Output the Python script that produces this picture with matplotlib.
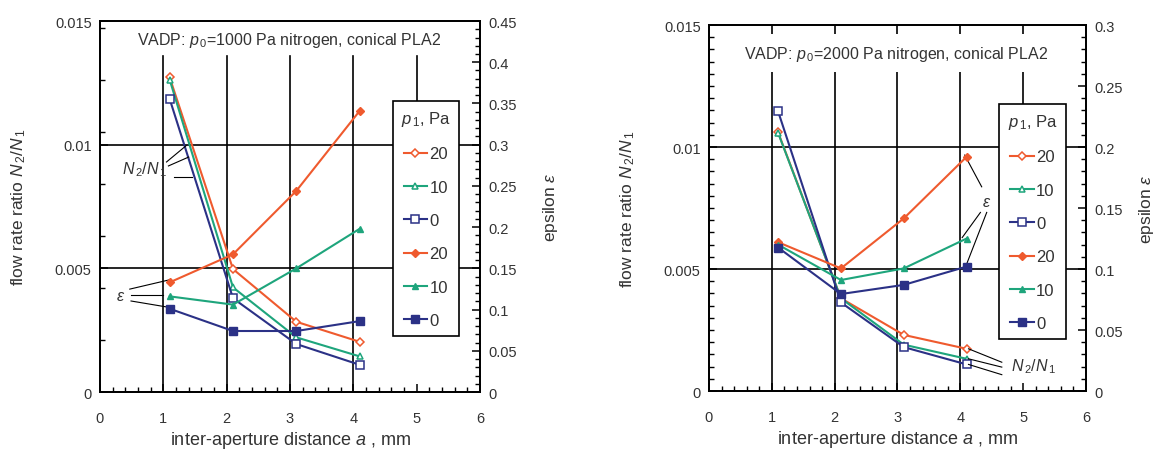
import numpy as np
import matplotlib
matplotlib.use("Agg")
import matplotlib.pyplot as plt
from matplotlib.ticker import MultipleLocator, FixedLocator

plt.rcParams['font.family'] = ['Liberation Sans', 'DejaVu Sans']
plt.rcParams['mathtext.fontset'] = 'custom'
plt.rcParams['mathtext.rm'] = 'Liberation Sans'
plt.rcParams['mathtext.it'] = 'Liberation Sans:italic'
plt.rcParams['mathtext.bf'] = 'Liberation Sans:bold'

# inter-aperture distance a, mm
a = [1.1, 2.1, 3.1, 4.1]
p1_labels = ['20', '10', '0']
ratio_ticks = [0, 0.005, 0.01, 0.015]
ratio_tick_labels = ['0', '0.005', '0.01', '0.015']

# p0 = 1000 Pa : flow rate ratio N2/N1 and epsilon
ratio_1000_20 = [0.01272, 0.00497, 0.00284, 0.00203]
ratio_1000_10 = [0.01263, 0.00423, 0.00221, 0.00144]
ratio_1000_0 = [0.01185, 0.00379, 0.00194, 0.00110]
eps_1000_20 = [0.133, 0.167, 0.244, 0.341]
eps_1000_10 = [0.116, 0.106, 0.150, 0.198]
eps_1000_0 = [0.101, 0.074, 0.074, 0.086]

# p0 = 2000 Pa
ratio_2000_20 = [0.0106, 0.0038, 0.0023, 0.00173]
ratio_2000_10 = [0.01058, 0.0038, 0.0019, 0.00132]
ratio_2000_0 = [0.01146, 0.00363, 0.0018, 0.00109]
eps_2000_20 = [0.122, 0.1005, 0.1415, 0.192]
eps_2000_10 = [0.120, 0.091, 0.1005, 0.125]
eps_2000_0 = [0.1176, 0.0795, 0.087, 0.102]

colors = ['#ef5a2e', '#1ea57c', '#2b3186']
markers = ['D', '^', 's']
msizes = [4, 5, 5.5]
txt = '#333333'


def panel(rect, p0, ratios, eps, eps_max, eps_ticks, title_y, title_pad,
          yminor, vgrid_top):
    ax = fig.add_axes(rect)
    ax2 = ax.twinx()

    for x in [1, 2, 3, 4]:
        ax.axvline(x, ymin=0, ymax=vgrid_top, color='black', lw=1.2, zorder=1)
    ax.axvline(5, ymin=0.75, ymax=vgrid_top, color='black', lw=1.2, zorder=1)
    for y in [0.005, 0.01]:
        ax.axhline(y, color='black', lw=1.2, zorder=1)

    handles = []
    for vals, c, m, ms in zip(ratios, colors, markers, msizes):
        h, = ax.plot(a, vals, color=c, lw=1.5, marker=m, ms=ms,
                     mfc='white', mec=c, mew=1.1, zorder=3)
        handles.append(h)
    for vals, c, m, ms in zip(eps, colors, markers, msizes):
        h, = ax2.plot(a, vals, color=c, lw=1.5, marker=m, ms=ms,
                      mfc=c, mec=c, zorder=3)
        handles.append(h)

    ax.text(0.497, title_y, r'VADP: $p_{\,0}$=%d Pa nitrogen, conical PLA2' % p0,
            transform=ax.transAxes, ha='center', va='center', fontsize=11.5,
            color=txt, zorder=2,
            bbox=dict(facecolor='white', edgecolor='none', pad=title_pad))

    ax.set_xticks(range(7))
    ax.xaxis.set_minor_locator(MultipleLocator(0.2))
    ax.set_yticks(ratio_ticks, ratio_tick_labels)
    ax.yaxis.set_minor_locator(yminor)
    ax2.set_yticks(eps_ticks, ['%g' % v for v in eps_ticks])
    ax2.yaxis.set_minor_locator(MultipleLocator(0.01))
    ax.set_xlim(0, 6)
    ax.set_ylim(0, 0.015)
    ax2.set_ylim(0, eps_max)

    for axis in (ax, ax2):
        axis.tick_params(which='major', direction='in', length=6, width=1.1,
                         labelsize=10.5, labelcolor=txt, pad=6)
        axis.tick_params(which='minor', direction='in', length=3.5, width=1)
        for s in axis.spines.values():
            s.set_linewidth(1.3)
    ax.tick_params(axis='x', pad=14)

    ax.set_xlabel(r'inter-aperture distance $a$ , mm', fontsize=13, color=txt)
    ax.xaxis.set_label_coords(0.5, -0.1)
    ax.set_ylabel(r'flow rate ratio $N_{\,2}/N_{\,1}$', fontsize=12.5, color=txt)
    ax.yaxis.set_label_coords(-0.19, 0.5)
    ax2.set_ylabel(r'epsilon $\varepsilon$', fontsize=12.5, color=txt)
    ax2.yaxis.set_label_coords(1.16, 0.5)

    leg = ax2.legend(handles, p1_labels + p1_labels, title=r'$p_{\,1}$, Pa',
                     loc='upper left', bbox_to_anchor=(0.77, 0.785),
                     fontsize=12, title_fontsize=12, frameon=True, fancybox=False,
                     edgecolor='black', framealpha=1, labelspacing=1.1,
                     handlelength=1.4, handletextpad=0.15, borderpad=0.5,
                     borderaxespad=0)
    leg.get_frame().set_linewidth(1.2)
    leg.set_zorder(10)
    for t in leg.get_texts():
        t.set_color(txt)
    leg.get_title().set_color(txt)
    return ax, ax2


fig = plt.figure(figsize=(11.6, 4.52), dpi=100)

ax, ax2 = panel([0.0862, 0.1305, 0.3276, 0.8208], 1000,
                [ratio_1000_20, ratio_1000_10, ratio_1000_0],
                [eps_1000_20, eps_1000_10, eps_1000_0], 0.45,
                [0, 0.05, 0.1, 0.15, 0.2, 0.25, 0.3, 0.35, 0.4, 0.45], 0.951, 1,
                FixedLocator(np.arange(0.0021, 0.015, 0.0021)), 0.906)
# leader lines to the curve groups
ax.text(0.70, 0.00902, r'$N_{\,2}/N_{\,1}$', ha='center', va='center',
        fontsize=11.5, color=txt, zorder=5)
for (x0, y0, x1, y1) in [(1.05, 0.0093, 1.36, 0.00996),
                         (1.08, 0.00914, 1.40, 0.0095),
                         (1.17, 0.0087, 1.45, 0.0087)]:
    ax.plot([x0, x1], [y0, y1], color='black', lw=0.8, zorder=4)
ax.text(0.33, 0.0039, r'$\varepsilon$', ha='center', va='center',
        fontsize=11.5, color=txt, zorder=5)
for (x0, y0, x1, y1) in [(0.47, 0.00416, 1.12, 0.00455),
                         (0.49, 0.00392, 1.0, 0.00392),
                         (0.49, 0.00368, 1.05, 0.00344)]:
    ax.plot([x0, x1], [y0, y1], color='black', lw=0.8, zorder=4)

bx, bx2 = panel([0.6112, 0.1327, 0.3250, 0.8097], 2000,
                [ratio_2000_20, ratio_2000_10, ratio_2000_0],
                [eps_2000_20, eps_2000_10, eps_2000_0], 0.3,
                [0, 0.05, 0.1, 0.15, 0.2, 0.25, 0.3], 0.923, 7,
                MultipleLocator(0.0005), 1.0)
bx2.yaxis.set_label_coords(1.135, 0.5)
bx.text(4.42, 0.00775, r'$\varepsilon$', ha='center', va='center',
        fontsize=11.5, color=txt, zorder=5)
for (x0, y0, x1, y1) in [(4.34, 0.00837, 4.07, 0.00967),
                         (4.32, 0.00732, 4.03, 0.00629),
                         (4.42, 0.00732, 4.10, 0.0052)]:
    bx.plot([x0, x1], [y0, y1], color='black', lw=0.8, zorder=4)
bx.text(5.16, 0.00105, r'$N_{\,2}/N_{\,1}$', ha='center', va='center',
        fontsize=11.5, color=txt, zorder=5)
for (x0, y0, x1, y1) in [(4.66, 0.00118, 4.13, 0.00173),
                         (4.66, 0.00098, 4.13, 0.00132),
                         (4.66, 0.00067, 4.13, 0.00109)]:
    bx.plot([x0, x1], [y0, y1], color='black', lw=0.8, zorder=4)

fig.savefig('out.png', dpi=100)
